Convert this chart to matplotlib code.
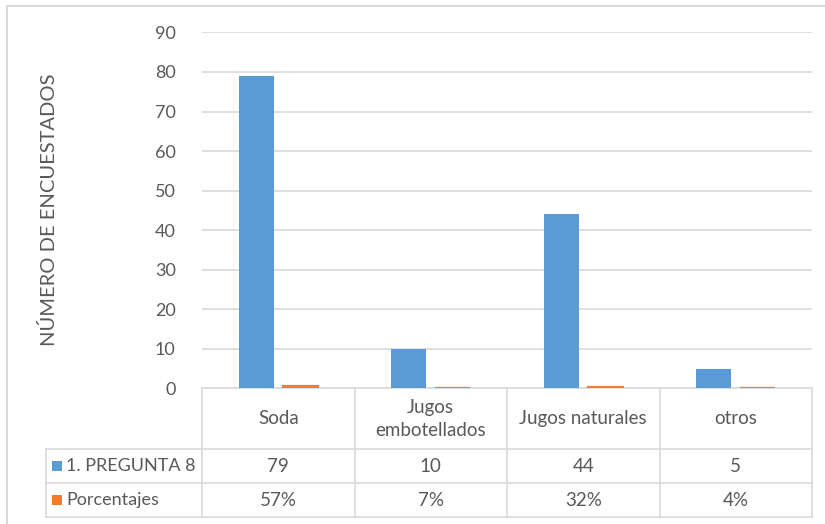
import matplotlib
matplotlib.use("Agg")
import matplotlib.pyplot as plt
from matplotlib.transforms import blended_transform_factory
from matplotlib.patches import Rectangle
from matplotlib.lines import Line2D

plt.rcParams['font.family'] = ['Lato', 'DejaVu Sans']

categories = ["Soda", "Jugos\nembotellados", "Jugos naturales", "otros"]
series_names = ["1. PREGUNTA 8", "Porcentajes"]
respondents = [79, 10, 44, 5]
percentages = [0.57, 0.07, 0.32, 0.04]
pct_labels = ["57%", "7%", "32%", "4%"]
yticks = [0, 10, 20, 30, 40, 50, 60, 70, 80, 90]

BLUE = "#5B9BD5"
ORANGE = "#ED7D31"
GRID = "#D9D9D9"
TEXT = "#595959"

W, H = 825, 524
fig = plt.figure(figsize=(W / 100, H / 100), dpi=100)

def fy(py):
    return 1 - py / H

def fx(px):
    return px / W

ax_left, ax_right, ax_top, ax_bottom = 202, 812, 32.4, 388.4
ax = fig.add_axes([fx(ax_left), fy(ax_bottom), fx(ax_right) - fx(ax_left),
                   fy(ax_top) - fy(ax_bottom)])
ax.patch.set_visible(False)
ax.set_zorder(2)

x = list(range(len(categories)))
bw = 0.23
off = 0.145
ax.bar([i - off for i in x], respondents, width=bw, color=BLUE, zorder=3)
ax.bar([i + off for i in x], percentages, width=bw, color=ORANGE,
       edgecolor=ORANGE, linewidth=1.6, zorder=3)

ax.set_xlim(-0.5, len(categories) - 0.5)
ax.set_ylim(0, 90)
ax.set_yticks(yticks)
ax.set_xticks([])
ax.tick_params(axis='y', length=0, pad=19, labelsize=13, labelcolor=TEXT)
ax.grid(axis='y', color=GRID, linewidth=1.2, zorder=0)
for s in ax.spines.values():
    s.set_visible(False)

fig.text(fx(49), fy(210), "NÚMERO DE ENCUESTADOS", rotation=90,
         ha='center', va='center', fontsize=14.5, color=TEXT)

# Data table under the plot
tr = blended_transform_factory(ax.transData, fig.transFigure)
rows_py = [388.4, 449, 483, 517]
leg_left = 46
lw = 1.2

def hline(x0, x1, py):
    fig.add_artist(Line2D([fx(x0), fx(x1)], [fy(py), fy(py)], color=GRID,
                          linewidth=lw, transform=fig.transFigure, zorder=1))

def vline(px, py0, py1):
    fig.add_artist(Line2D([fx(px), fx(px)], [fy(py0), fy(py1)], color=GRID,
                          linewidth=lw, transform=fig.transFigure, zorder=1))

hline(ax_left, ax_right, rows_py[0])
for py in rows_py[1:]:
    hline(leg_left, ax_right, py)
vline(leg_left, rows_py[1], rows_py[3])
for i in range(len(categories) + 1):
    fig.add_artist(Line2D([i - 0.5, i - 0.5], [fy(rows_py[0]), fy(rows_py[3])],
                          color=GRID, linewidth=lw, transform=tr, zorder=1))

def mid(a, b):
    return fy((rows_py[a] + rows_py[b]) / 2)

for i, cat in enumerate(categories):
    fig.text(i, mid(0, 1), cat, transform=tr, ha='center', va='center',
             fontsize=13.5, color=TEXT, linespacing=1.45)
    fig.text(i, mid(1, 2), str(respondents[i]), transform=tr, ha='center',
             va='center', fontsize=13.5, color=TEXT)
    fig.text(i, mid(2, 3), pct_labels[i], transform=tr, ha='center',
             va='center', fontsize=13.5, color=TEXT)

for r, (name, col) in enumerate(zip(series_names, [BLUE, ORANGE])):
    yc = mid(r + 1, r + 2)
    fig.add_artist(Rectangle((fx(52), yc - 5 / H), 10 / W, 10 / H,
                             facecolor=col, edgecolor='none',
                             transform=fig.transFigure))
    fig.text(fx(66), yc, name, ha='left', va='center', fontsize=13, color=TEXT)

# Chart area border
fig.add_artist(Rectangle((fx(7), -0.1), 2, fy(6) + 0.1, facecolor='none',
                         edgecolor=GRID, linewidth=1.5,
                         transform=fig.transFigure))

fig.savefig("out.png", dpi=100)
